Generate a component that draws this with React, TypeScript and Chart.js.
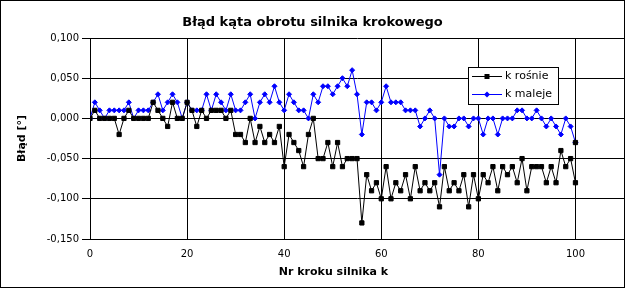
import React, { useEffect, useRef } from 'react';
import { Chart, registerables } from 'chart.js';

Chart.register(...registerables);

const chartTitle = 'Błąd kąta obrotu silnika krokowego';
const xAxisTitle = 'Nr kroku silnika k';
const yAxisTitle = 'Błąd [°]';
const seriesNames = ['k rośnie', 'k maleje'];

const xTicks = [0, 20, 40, 60, 80, 100];
const yTicks = [-0.15, -0.1, -0.05, 0, 0.05, 0.1];

// k = 0 .. 100
const kRosnie = [
  0, 0.01, 0, 0, 0, 0, -0.02, 0, 0.01, 0,
  0, 0, 0, 0.02, 0.01, 0, -0.01, 0.02, 0, 0,
  0.02, 0.01, -0.01, 0.01, 0, 0.01, 0.01, 0.01, 0, 0.01,
  -0.02, -0.02, -0.03, 0, -0.03, -0.01, -0.03, -0.02, -0.03, -0.01,
  -0.06, -0.02, -0.03, -0.04, -0.06, -0.02, 0, -0.05, -0.05, -0.03,
  -0.06, -0.03, -0.06, -0.05, -0.05, -0.05, -0.13, -0.07, -0.09, -0.08,
  -0.1, -0.06, -0.1, -0.08, -0.09, -0.07, -0.1, -0.06, -0.09, -0.08,
  -0.09, -0.08, -0.11, -0.06, -0.09, -0.08, -0.09, -0.07, -0.11, -0.07,
  -0.1, -0.07, -0.08, -0.06, -0.09, -0.06, -0.07, -0.06, -0.08, -0.05,
  -0.09, -0.06, -0.06, -0.06, -0.08, -0.06, -0.08, -0.04, -0.06, -0.05,
  -0.08,
];
// final return point of the rising series at k = 100
const kRosnieReturnStep = 100;
const kRosnieReturnValue = -0.03;

const kMaleje = [
  0, 0.02, 0.01, 0, 0.01, 0.01, 0.01, 0.01, 0.02, 0,
  0.01, 0.01, 0.01, 0.02, 0.03, 0.01, 0.02, 0.03, 0.02, 0,
  0.02, 0.01, 0.01, 0.01, 0.03, 0.01, 0.03, 0.02, 0.01, 0.03,
  0.01, 0.01, 0.02, 0.03, 0, 0.02, 0.03, 0.02, 0.04, 0.02,
  0.01, 0.03, 0.02, 0.01, 0.01, 0, 0.03, 0.02, 0.04, 0.04,
  0.03, 0.04, 0.05, 0.04, 0.06, 0.03, -0.02, 0.02, 0.02, 0.01,
  0.02, 0.04, 0.02, 0.02, 0.02, 0.01, 0.01, 0.01, -0.01, 0,
  0.01, 0, -0.07, 0, -0.01, -0.01, 0, 0, -0.01, 0,
  0, -0.02, 0, 0, -0.02, 0, 0, 0, 0.01, 0.01,
  0, 0, 0.01, 0, -0.01, 0, -0.01, -0.02, 0, -0.01,
  -0.03,
];

const BLACK = '#000000';
const BLUE = '#0000ff';
const FONT = '"DejaVu Sans", sans-serif';

// plot-area box (canvas px)
const AREA = { left: 90, right: 624, top: 38, bottom: 239 };

function fmt(v: number): string {
  if (Math.abs(v) < 1e-9) return '0,000';
  return v.toFixed(3).replace('.', ',');
}

const areaPlugin = {
  id: 'areaPlugin',
  afterLayout(chart: any) {
    const a = chart.chartArea;
    a.left = AREA.left;
    a.right = AREA.right;
    a.top = AREA.top;
    a.bottom = AREA.bottom;
    a.width = AREA.right - AREA.left;
    a.height = AREA.bottom - AREA.top;
    const xs = chart.scales.x;
    xs.left = AREA.left;
    xs.right = AREA.right;
    xs.width = AREA.right - AREA.left;
    xs.top = AREA.bottom;
    xs.bottom = chart.height;
    xs.height = chart.height - AREA.bottom;
    xs.configure();
    const ys = chart.scales.y;
    ys.left = 0;
    ys.right = AREA.left;
    ys.width = AREA.left;
    ys.top = AREA.top;
    ys.bottom = AREA.bottom;
    ys.height = AREA.bottom - AREA.top;
    ys.configure();
  },
};

const textPlugin = {
  id: 'textPlugin',
  afterDraw(chart: any) {
    const ctx = chart.ctx as CanvasRenderingContext2D;
    const area = chart.chartArea;
    ctx.save();
    ctx.fillStyle = BLACK;
    ctx.textAlign = 'center';
    ctx.textBaseline = 'middle';
    ctx.font = `bold 13px ${FONT}`;
    ctx.fillText(chartTitle, chart.width / 2, 22.5);
    ctx.font = `bold 11px ${FONT}`;
    ctx.fillText(xAxisTitle, 333.5, 272.5);
    ctx.save();
    ctx.translate(22, (area.top + area.bottom) / 2);
    ctx.rotate(-Math.PI / 2);
    ctx.fillText(yAxisTitle, 0, 0);
    ctx.restore();

    // legend
    const bx = 468.5, by = 67.5, bw = 90, bh = 37;
    ctx.fillStyle = '#ffffff';
    ctx.fillRect(bx, by, bw, bh);
    ctx.strokeStyle = BLACK;
    ctx.lineWidth = 1;
    ctx.strokeRect(bx, by, bw, bh);
    const rows = [
      { name: seriesNames[0], color: BLACK, y: 76.5, style: 'rect' },
      { name: seriesNames[1], color: BLUE, y: 94.5, style: 'diamond' },
    ];
    rows.forEach((r) => {
      ctx.strokeStyle = r.color;
      ctx.beginPath();
      ctx.moveTo(472, r.y);
      ctx.lineTo(502, r.y);
      ctx.stroke();
      ctx.fillStyle = r.color;
      if (r.style === 'rect') {
        ctx.fillRect(484.5, r.y - 2.5, 5, 5);
      } else {
        ctx.beginPath();
        ctx.moveTo(487, r.y - 3);
        ctx.lineTo(490, r.y);
        ctx.lineTo(487, r.y + 3);
        ctx.lineTo(484, r.y);
        ctx.closePath();
        ctx.fill();
      }
      ctx.fillStyle = BLACK;
      ctx.font = `11px ${FONT}`;
      ctx.textAlign = 'left';
      ctx.fillText(r.name, 505, r.y);
    });
    ctx.restore();
  },
};

export default function App() {
  const ref = useRef<HTMLCanvasElement | null>(null);

  useEffect(() => {
    document.body.style.margin = '0';
    const canvas = ref.current;
    if (!canvas) return;
    const upData = kRosnie.map((y, x) => ({ x, y }));
    upData.push({ x: kRosnieReturnStep, y: kRosnieReturnValue });
    const downData = kMaleje.map((y, x) => ({ x, y }));

    const chart = new Chart(canvas, {
      type: 'line',
      data: {
        datasets: [
          {
            label: seriesNames[0],
            data: upData,
            borderColor: BLACK,
            backgroundColor: BLACK,
            borderWidth: 1,
            pointStyle: 'rect',
            pointRadius: 3,
            pointBorderWidth: 1,
            pointBackgroundColor: BLACK,
            pointBorderColor: BLACK,
            tension: 0,
          },
          {
            label: seriesNames[1],
            data: downData,
            borderColor: BLUE,
            backgroundColor: BLUE,
            borderWidth: 1,
            pointStyle: 'rectRot',
            pointRadius: 2.5,
            pointBorderWidth: 1,
            pointBackgroundColor: BLUE,
            pointBorderColor: BLUE,
            tension: 0,
          },
        ],
      },
      options: {
        animation: false,
        responsive: false,
        maintainAspectRatio: false,
        layout: { padding: { top: 38, left: 0, right: 1, bottom: 0 } },
        plugins: {
          legend: { display: false },
          title: { display: false },
          tooltip: { enabled: false },
        },
        scales: {
          x: {
            type: 'linear',
            min: 0,
            max: 110,
            afterBuildTicks: (scale: any) => {
              scale.ticks = xTicks.map((value) => ({ value }));
            },
            afterFit: (scale: any) => {
              scale.height = 49;
            },
            ticks: {
              color: BLACK,
              padding: 9,
              maxRotation: 0,
              font: { family: FONT, size: 10 },
              callback: (v: any) => String(v),
            },
            grid: { color: BLACK, lineWidth: 1, drawTicks: false },
            border: { color: BLACK, width: 1 },
          },
          y: {
            type: 'linear',
            min: -0.15,
            max: 0.1,
            afterBuildTicks: (scale: any) => {
              scale.ticks = yTicks.map((value) => ({ value }));
            },
            afterFit: (scale: any) => {
              scale.width = 90;
            },
            ticks: {
              color: BLACK,
              padding: 3,
              font: { family: FONT, size: 10 },
              callback: (v: any) => fmt(Number(v)),
            },
            grid: { color: BLACK, lineWidth: 1, drawTicks: true, tickLength: 8 },
            border: { color: BLACK, width: 1 },
          },
        },
      },
      plugins: [areaPlugin, textPlugin],
    });
    return () => chart.destroy();
  }, []);

  return (
    <div style={{ position: 'relative', width: 625, height: 288, background: '#fff' }}>
      <canvas ref={ref} width={625} height={288} style={{ display: 'block', width: 625, height: 288 }} />
      <div
        style={{
          position: 'absolute',
          left: 0,
          top: 0,
          width: 625,
          height: 288,
          border: '1px solid #000',
          boxSizing: 'border-box',
          pointerEvents: 'none',
        }}
      />
    </div>
  );
}
